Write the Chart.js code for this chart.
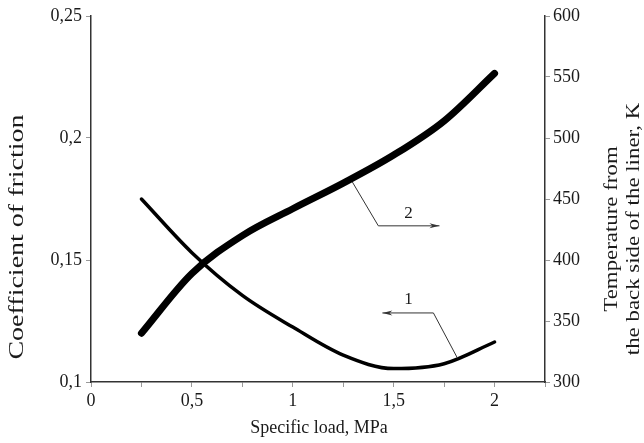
<!doctype html>
<html lang="en">
<head>
<meta charset="utf-8">
<title>Coefficient of friction and temperature vs specific load</title>
<script src="https://cdn.jsdelivr.net/npm/chart.js@4"></script>
<style>
  html, body { margin: 0; padding: 0; background: #fff; }
  canvas { display: block; }
</style>
</head>
<body>
<canvas id="chart" width="644" height="443"></canvas>
<script>
// specific load, MPa
const loads = [0.25, 0.5, 0.75, 1.0, 1.25, 1.5, 1.75, 2.0];
// curve 1: coefficient of friction
const friction = [0.175, 0.153, 0.1355, 0.1225, 0.111, 0.1055, 0.1075, 0.1164];
// curve 2: temperature from the back side of the liner, K
const temperature = [340, 389, 420, 442, 463, 486, 514, 553];

const serif = '"Liberation Serif", "Times New Roman", serif';
const ink = '#1a1a1a';
const fmt = v => String(Number(v.toFixed(2))).replace('.', ',');

// callout leaders, in data units
const callouts = [
  { text: '2', axis: 'y1', dir: 1, pts: [[1.295, 464], [1.424, 428], [1.727, 428]], label: [1.573, 438] },
  { text: '1', axis: 'y', dir: -1, pts: [[1.816, 0.1098], [1.697, 0.1283], [1.444, 0.1283]], label: [1.573, 0.1338] }
];

const decor = {
  id: 'decor',
  afterDatasetsDraw(chart) {
    const { ctx, scales } = chart;
    ctx.save();
    ctx.strokeStyle = '#333';
    ctx.lineWidth = 1;
    callouts.forEach(c => {
      const ys = scales[c.axis];
      const p = c.pts.map(([a, b]) => [scales.x.getPixelForValue(a), ys.getPixelForValue(b)]);
      ctx.beginPath();
      ctx.moveTo(p[0][0], p[0][1]);
      p.slice(1).forEach(q => ctx.lineTo(q[0], q[1]));
      ctx.stroke();
      const [ex, ey] = p[p.length - 1];
      ctx.fillStyle = '#333';
      ctx.beginPath();
      ctx.moveTo(ex, ey);
      ctx.lineTo(ex - c.dir * 10, ey - 2.5);
      ctx.lineTo(ex - c.dir * 7, ey);
      ctx.lineTo(ex - c.dir * 10, ey + 2.5);
      ctx.closePath();
      ctx.fill();
      ctx.font = '17px ' + serif;
      ctx.fillStyle = ink;
      ctx.textAlign = 'center';
      ctx.textBaseline = 'middle';
      ctx.fillText(c.text, scales.x.getPixelForValue(c.label[0]), ys.getPixelForValue(c.label[1]));
    });
    ctx.restore();
  },
  afterDraw(chart) {
    const { ctx } = chart;
    ctx.save();
    ctx.fillStyle = ink;
    ctx.textAlign = 'center';
    ctx.textBaseline = 'middle';
    ctx.font = '18px ' + serif;
    ctx.fillText('Specific load, MPa', 319, 428);
    // the source figure has its vertical titles stretched along their length
    const vertical = (lines, x0, y0, gap, size, stretch) => {
      ctx.save();
      ctx.font = size + 'px ' + serif;
      ctx.translate(x0, y0);
      ctx.rotate(-Math.PI / 2);
      ctx.scale(stretch, 1);
      lines.forEach((t, i) => ctx.fillText(t, 0, i * gap));
      ctx.restore();
    };
    vertical(['Coefficient of friction'], 18, 237, 0, 20, 1.4);
    vertical(['Temperature from', 'the back side of the liner, K'], 612, 229, 22, 18, 1.27);
    ctx.restore();
  }
};

const tickFont = { family: serif, size: 18 };

new Chart(document.getElementById('chart'), {
  type: 'line',
  data: {
    labels: loads,
    datasets: [
      {
        label: '1',
        data: loads.map((x, i) => ({ x, y: friction[i] })),
        yAxisID: 'y',
        borderColor: '#000',
        borderWidth: 3.5,
        borderCapStyle: 'round',
        cubicInterpolationMode: 'monotone',
        pointRadius: 0,
        fill: false
      },
      {
        label: '2',
        data: loads.map((x, i) => ({ x, y: temperature[i] })),
        yAxisID: 'y1',
        borderColor: '#000',
        borderWidth: 7,
        borderCapStyle: 'round',
        cubicInterpolationMode: 'monotone',
        pointRadius: 0,
        fill: false
      }
    ]
  },
  options: {
    responsive: false,
    animation: false,
    layout: { padding: { top: 16 } },
    plugins: { legend: { display: false }, tooltip: { enabled: false } },
    scales: {
      x: {
        type: 'linear',
        min: 0,
        max: 2.25,
        afterFit: s => { s.height = 61; },
        ticks: {
          stepSize: 0.25,
          autoSkip: false,
          maxRotation: 0,
          padding: 3,
          color: ink,
          font: tickFont,
          callback: v => (Math.round(v * 100) % 50 === 0 ? fmt(v) : '')
        },
        grid: { drawOnChartArea: false, tickLength: 5, color: '#999' },
        border: { color: '#333', width: 1.5 }
      },
      y: {
        position: 'left',
        min: 0.1,
        max: 0.25,
        afterFit: s => { s.width = 91; },
        ticks: { stepSize: 0.05, padding: 4, color: ink, font: tickFont, callback: v => fmt(v) },
        grid: { drawOnChartArea: false, tickLength: 5, color: '#999' },
        border: { color: '#333', width: 1.5 }
      },
      y1: {
        position: 'right',
        min: 300,
        max: 600,
        afterFit: s => { s.width = 99; },
        ticks: { stepSize: 50, padding: 3, color: ink, font: tickFont },
        grid: { drawOnChartArea: false, tickLength: 5, color: '#999' },
        border: { color: '#333', width: 1.5 }
      }
    }
  },
  plugins: [decor]
});
</script>
</body>
</html>
